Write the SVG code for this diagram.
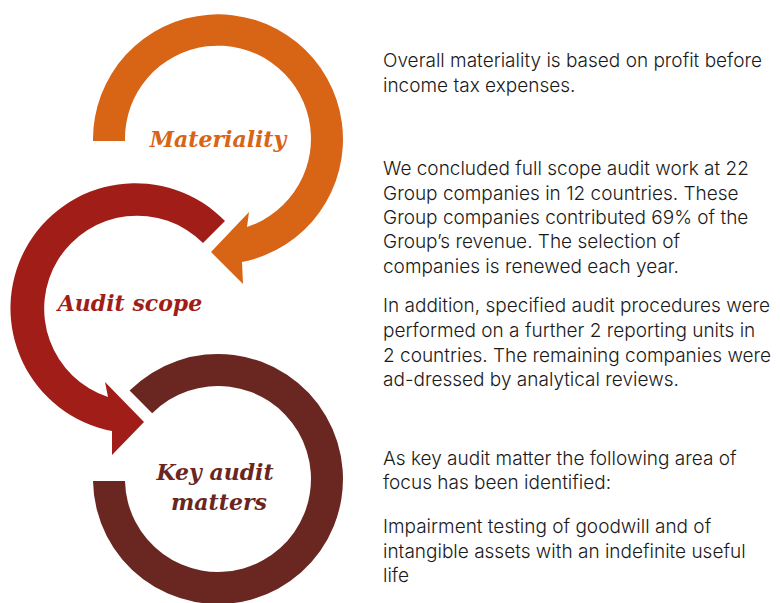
<svg xmlns="http://www.w3.org/2000/svg" width="780" height="603" viewBox="0 0 780 603">
<style>
.lbl{font-family:"DejaVu Serif","Liberation Serif",serif;font-weight:bold;font-style:italic;font-size:22px;text-anchor:middle}
.body{font-family:Inter,"Liberation Sans",sans-serif;font-weight:300;font-size:19px;fill:#1a1a1a}
</style>
<rect width="780" height="603" fill="#ffffff"/>
<g id="connectors">
<path id="arc-materiality" fill="#D86416" d="M93,141 A125,125 0 1 1 242,262 L243,284 L211,252 L249,212 L247,227 A93,93 0 1 0 125,141 Z"/>
<path id="arc-scope" fill="#A11D18" d="M225,221 A125,125 0 1 0 112,431 L112,455 L144,422 L105,382 L108,397 A93,93 0 1 1 203,243 Z"/>
<path id="arc-kam" fill="#6A2722" d="M129.6,390.6 A125,125 0 1 1 93,481 L125,481 A93,93 0 1 0 152.2,413.2 Z"/>
</g>
<g id="node-materiality">
<text class="lbl" x="218" y="147" fill="#D86416">Materiality</text>
</g>
<g id="node-scope">
<text class="lbl" x="130" y="311" fill="#A11D18">Audit scope</text>
</g>
<g id="node-kam">
<text class="lbl" x="215" y="480" fill="#6A2722">Key audit</text>
<text class="lbl" x="219" y="510" fill="#6A2722">matters</text>
</g>
<g id="descriptions">
<text class="body" x="383" y="67">Overall materiality is based on profit before</text>
<text class="body" x="383" y="92">income tax expenses.</text>
<text class="body" x="383" y="175">We concluded full scope audit work at 22</text>
<text class="body" x="383" y="200">Group companies in 12 countries. These</text>
<text class="body" x="383" y="224">Group companies contributed 69% of the</text>
<text class="body" x="383" y="248">Group’s revenue. The selection of</text>
<text class="body" x="383" y="273">companies is renewed each year.</text>
<text class="body" x="383" y="312">In addition, specified audit procedures were</text>
<text class="body" x="383" y="337">performed on a further 2 reporting units in</text>
<text class="body" x="383" y="362">2 countries. The remaining companies were</text>
<text class="body" x="383" y="386">ad-dressed by analytical reviews.</text>
<text class="body" x="383" y="465">As key audit matter the following area of</text>
<text class="body" x="383" y="489">focus has been identified:</text>
<text class="body" x="383" y="533">Impairment testing of goodwill and of</text>
<text class="body" x="383" y="558">intangible assets with an indefinite useful</text>
<text class="body" x="383" y="582">life</text>
</g>
</svg>
